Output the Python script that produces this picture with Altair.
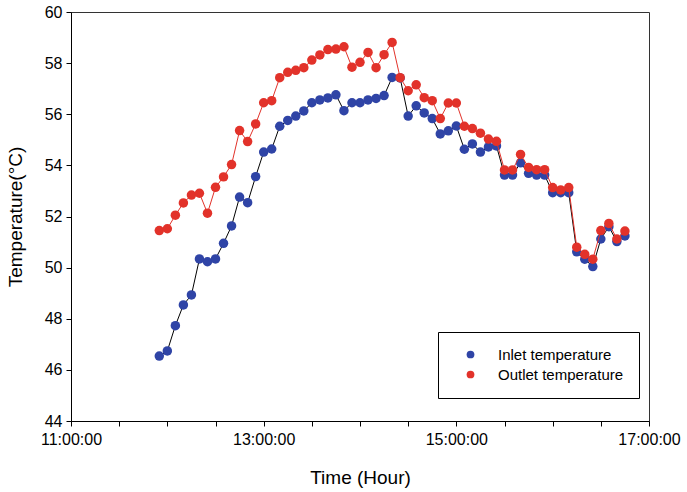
import altair as alt
import pandas as pd

times = ["11:55", "12:00", "12:05", "12:10", "12:15", "12:20", "12:25", "12:30", "12:35", "12:40",
         "12:45", "12:50", "12:55", "13:00", "13:05", "13:10", "13:15", "13:20", "13:25", "13:30",
         "13:35", "13:40", "13:45", "13:50", "13:55", "14:00", "14:05", "14:10", "14:15", "14:20",
         "14:25", "14:30", "14:35", "14:40", "14:45", "14:50", "14:55", "15:00", "15:05", "15:10",
         "15:15", "15:20", "15:25", "15:30", "15:35", "15:40", "15:45", "15:50", "15:55", "16:00",
         "16:05", "16:10", "16:15", "16:20", "16:25", "16:30", "16:35", "16:40", "16:45"]

inlet = [46.54, 46.74, 47.73, 48.54, 48.93, 50.34, 50.23, 50.34, 50.95, 51.63,
         52.76, 52.54, 53.56, 54.52, 54.64, 55.53, 55.76, 55.93, 56.13, 56.45,
         56.56, 56.64, 56.76, 56.14, 56.45, 56.45, 56.56, 56.62, 56.73, 57.44,
         57.42, 55.93, 56.33, 56.05, 55.83, 55.23, 55.35, 55.54, 54.63, 54.84,
         54.52, 54.72, 54.76, 53.62, 53.62, 54.10, 53.69, 53.62, 53.62, 52.93,
         52.93, 52.93, 50.62, 50.33, 50.04, 51.12, 51.60, 51.02, 51.24]

outlet = [51.45, 51.52, 52.05, 52.53, 52.84, 52.91, 52.13, 53.14, 53.55, 54.03,
          55.36, 54.93, 55.62, 56.45, 56.53, 57.43, 57.64, 57.72, 57.82, 58.12,
          58.32, 58.53, 58.55, 58.64, 57.84, 58.03, 58.42, 57.82, 58.33, 58.81,
          57.43, 56.92, 57.15, 56.65, 56.53, 55.83, 56.44, 56.44, 55.53, 55.44,
          55.26, 55.03, 54.94, 53.82, 53.82, 54.43, 53.92, 53.83, 53.83, 53.13,
          53.04, 53.13, 50.80, 50.52, 50.33, 51.45, 51.73, 51.12, 51.43]

series_names = ["Inlet temperature", "Outlet temperature"]
x_tick_values = [0, 30, 60, 90, 120, 150, 180, 210, 240, 270, 300, 330, 360]
y_tick_values = [44, 46, 48, 50, 52, 54, 56, 58, 60]

BLUE = "#2f44a6"
RED = "#e2322a"


def minutes_since_11(t):
    h, m = t.split(":")
    return (int(h) - 11) * 60 + int(m)


df_in = pd.DataFrame({"t": [minutes_since_11(t) for t in times], "temp": inlet,
                      "series": series_names[0]})
df_out = pd.DataFrame({"t": [minutes_since_11(t) for t in times], "temp": outlet,
                       "series": series_names[1]})

x_enc = alt.X("t:Q", scale=alt.Scale(domain=[0, 360], nice=False, zero=False),
              axis=alt.Axis(values=x_tick_values, title="Time (Hour)",
                            labelExpr="datum.value % 120 == 0 ? format(11 + datum.value / 60, 'd') + ':00:00' : ''",
                            grid=False, tickSize=5, labelPadding=5, titlePadding=21,
                            labelFlush=False, labelOverlap=False))
y_enc = alt.Y("temp:Q", scale=alt.Scale(domain=[44, 60], nice=False, zero=False),
              axis=alt.Axis(values=y_tick_values, title="Temperature(°C)", grid=False,
                            tickSize=5, labelPadding=4, titlePadding=19))

color_enc = alt.Color("series:N",
                      scale=alt.Scale(domain=series_names, range=[BLUE, RED]),
                      legend=alt.Legend(title=None, orient="none", legendX=367, legendY=320,
                                        strokeColor="black", fillColor="white", padding=15,
                                        symbolOffset=10, labelOffset=20, symbolSize=60,
                                        symbolType="circle", labelFontSize=15,
                                        labelColor="black", labelLimit=300, rowPadding=4))

line_in = alt.Chart(df_in).mark_line(color="black", strokeWidth=1).encode(x=x_enc, y=y_enc)
pts_in = alt.Chart(df_in).mark_circle(size=90, opacity=1).encode(x=x_enc, y=y_enc, color=color_enc)
line_out = alt.Chart(df_out).mark_line(color=RED, strokeWidth=1).encode(x=x_enc, y=y_enc)
pts_out = alt.Chart(df_out).mark_circle(size=90, opacity=1).encode(x=x_enc, y=y_enc, color=color_enc)

chart = alt.layer(line_in, pts_in, line_out, pts_out).properties(
    width=578, height=409,
    autosize=alt.AutoSizeParams(type="none"),
    padding={"left": 71, "top": 12, "right": 38, "bottom": 71},
    background="white",
).configure(font="Liberation Sans").configure_view(
    stroke="#333333", strokeWidth=1
).configure_axis(
    domainColor="black", tickColor="black", labelColor="black", titleColor="black",
    labelFontSize=16, titleFontSize=19, titleFontWeight="normal", domainWidth=1, tickWidth=1
)

chart.save("out.html", embed_options={"renderer": "svg", "actions": False})
